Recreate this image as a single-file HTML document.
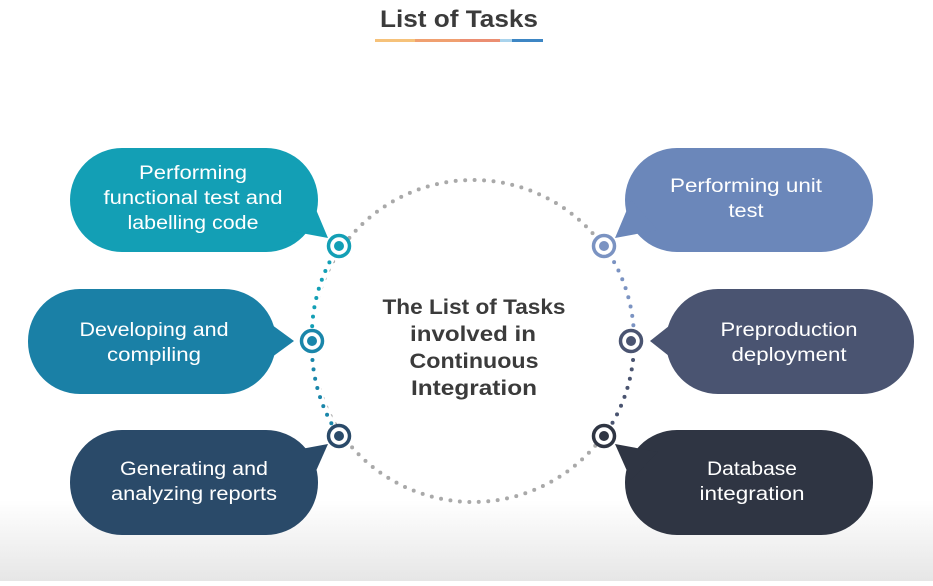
<!DOCTYPE html>
<html><head><meta charset="utf-8"><style>
html,body{margin:0;padding:0;background:#fff;}
body{width:933px;height:581px;overflow:hidden;}
svg text{font-family:"Liberation Sans",sans-serif;}
</style></head><body>
<svg width="933" height="581" viewBox="0 0 933 581" xmlns="http://www.w3.org/2000/svg">
<defs>
<linearGradient id="bg" x1="0" y1="0" x2="0" y2="1">
<stop offset="0" stop-color="#fff"/><stop offset="0.86" stop-color="#fff"/><stop offset="1" stop-color="#e6e6e6"/>
</linearGradient>
</defs>
<rect width="933" height="581" fill="url(#bg)"/>
<text x="459" y="27" text-anchor="middle" font-size="24" font-weight="bold" fill="#3b3b3b" textLength="158" lengthAdjust="spacingAndGlyphs">List of Tasks</text>
<rect x="375" y="39" width="40" height="3" fill="#f6c27a"/>
<rect x="415" y="39" width="45" height="3" fill="#f0a070"/>
<rect x="460" y="39" width="40" height="3" fill="#eb8e72"/>
<rect x="500" y="39" width="12" height="3" fill="#a9d3ec"/>
<rect x="512" y="39" width="31" height="3" fill="#3d86c4"/>

<circle cx="473" cy="341" r="161" fill="none" stroke="#a9a9a9" stroke-width="4" stroke-linecap="round" stroke-dasharray="0 9.5"/>
<path d="M339 246 A161 161 0 0 0 312 341 A161 161 0 0 0 339 436" fill="none" stroke="#fff" stroke-width="7"/>
<path d="M604 246 A161 161 0 0 1 634 341 A161 161 0 0 1 604 436" fill="none" stroke="#fff" stroke-width="7"/>
<path d="M339 246 A161 161 0 0 0 312 341" fill="none" stroke="#139fb5" stroke-width="4" stroke-linecap="round" stroke-dasharray="0 9.5"/>
<path d="M312 341 A161 161 0 0 0 339 436" fill="none" stroke="#1a86aa" stroke-width="4" stroke-linecap="round" stroke-dasharray="0 9.5"/>
<path d="M604 246 A161 161 0 0 1 634 341" fill="none" stroke="#7b93c2" stroke-width="4" stroke-linecap="round" stroke-dasharray="0 9.5"/>
<path d="M634 341 A161 161 0 0 1 604 436" fill="none" stroke="#4a5470" stroke-width="4" stroke-linecap="round" stroke-dasharray="0 9.5"/>

<g>
<rect x="70" y="148" width="248" height="104" rx="52" fill="#139fb5"/>
<polygon points="285,230 312,200 328,238" fill="#139fb5"/>
<rect x="28" y="289" width="248" height="105" rx="52" fill="#1a80a6"/>
<polygon points="268,322 268,360 294,341" fill="#1a80a6"/>
<rect x="70" y="430" width="248" height="105" rx="52" fill="#2a4a69"/>
<polygon points="285,452 312,480 328,444" fill="#2a4a69"/>
<rect x="625" y="148" width="248" height="104" rx="52" fill="#6b87ba"/>
<polygon points="658,230 631,200 615,238" fill="#6b87ba"/>
<rect x="666" y="289" width="248" height="105" rx="52" fill="#4a5471"/>
<polygon points="674,322 674,360 650,341" fill="#4a5471"/>
<rect x="625" y="430" width="248" height="105" rx="52" fill="#2f3543"/>
<polygon points="658,452 631,480 615,444" fill="#2f3543"/>
</g>

<g fill="#fff" stroke-width="3.5">
<circle cx="339" cy="246" r="10.5" stroke="#139fb5"/><circle cx="339" cy="246" r="5" fill="#139fb5" stroke="none"/>
<circle cx="312" cy="341" r="10.5" stroke="#1a86aa"/><circle cx="312" cy="341" r="5" fill="#1a86aa" stroke="none"/>
<circle cx="339" cy="436" r="10.5" stroke="#2a4a69"/><circle cx="339" cy="436" r="5" fill="#2a4a69" stroke="none"/>
<circle cx="604" cy="246" r="10.5" stroke="#7b93c2"/><circle cx="604" cy="246" r="5" fill="#7b93c2" stroke="none"/>
<circle cx="631" cy="341" r="10.5" stroke="#4a5471"/><circle cx="631" cy="341" r="5" fill="#4a5471" stroke="none"/>
<circle cx="604" cy="436" r="10.5" stroke="#2f3543"/><circle cx="604" cy="436" r="5" fill="#2f3543" stroke="none"/>
</g>

<g fill="#fff" font-size="19" text-anchor="middle" lengthAdjust="spacingAndGlyphs">
<text x="193" y="179" textLength="108" lengthAdjust="spacingAndGlyphs">Performing</text>
<text x="193" y="204" textLength="179" lengthAdjust="spacingAndGlyphs">functional test and</text>
<text x="193" y="229" textLength="131" lengthAdjust="spacingAndGlyphs">labelling code</text>
<text x="154" y="336" textLength="149" lengthAdjust="spacingAndGlyphs">Developing and</text>
<text x="154" y="361" textLength="94" lengthAdjust="spacingAndGlyphs">compiling</text>
<text x="194" y="475" textLength="148" lengthAdjust="spacingAndGlyphs">Generating and</text>
<text x="194" y="500" textLength="166" lengthAdjust="spacingAndGlyphs">analyzing reports</text>
<text x="746" y="192" textLength="152" lengthAdjust="spacingAndGlyphs">Performing unit</text>
<text x="746" y="217" textLength="35" lengthAdjust="spacingAndGlyphs">test</text>
<text x="789" y="336" textLength="137" lengthAdjust="spacingAndGlyphs">Preproduction</text>
<text x="789" y="361" textLength="115" lengthAdjust="spacingAndGlyphs">deployment</text>
<text x="752" y="475" textLength="90" lengthAdjust="spacingAndGlyphs">Database</text>
<text x="752" y="500" textLength="105" lengthAdjust="spacingAndGlyphs">integration</text>
</g>
<g fill="#3b3b3b" font-size="21" font-weight="bold" text-anchor="middle">
<text x="474" y="314" textLength="183" lengthAdjust="spacingAndGlyphs">The List of Tasks</text>
<text x="473" y="341" textLength="126" lengthAdjust="spacingAndGlyphs">involved in</text>
<text x="474" y="368" textLength="129" lengthAdjust="spacingAndGlyphs">Continuous</text>
<text x="474" y="395" textLength="126" lengthAdjust="spacingAndGlyphs">Integration</text>
</g>
</svg>
</body></html>
